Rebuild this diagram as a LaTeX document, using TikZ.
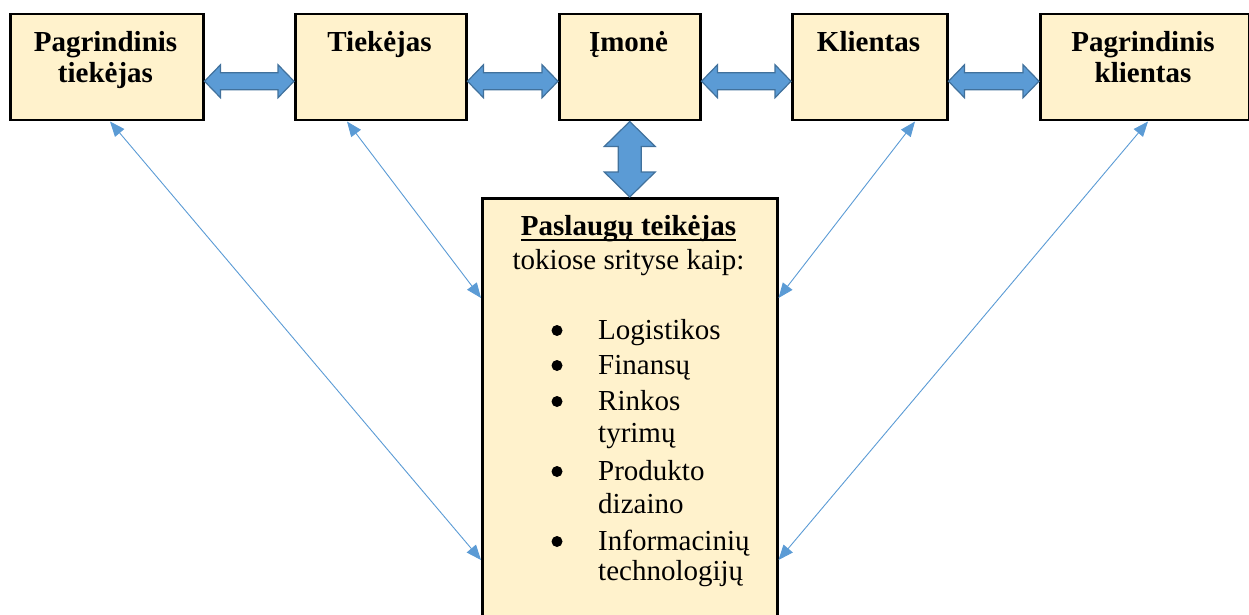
\documentclass[tikz,border=0pt]{standalone}
\usepackage{fontspec}
\setmainfont{Liberation Serif}
\usetikzlibrary{arrows.meta,calc}

\definecolor{boxfill}{HTML}{FFF2CC}
\definecolor{arrowblue}{HTML}{5B9BD5}
\definecolor{arrowedge}{HTML}{41719C}

% horizontal double block arrow between two points on one level
\newcommand\hblock[2]{%
  \path[block] let \p1=(#1), \p2=(#2) in
    (\x1,\y1) -- (\x1+16pt,\y1+16.5pt) -- (\x1+16pt,\y1+8.5pt)
    -- (\x2-16pt,\y1+8.5pt) -- (\x2-16pt,\y1+16.5pt) -- (\x2,\y1)
    -- (\x2-16pt,\y1-16.5pt) -- (\x2-16pt,\y1-8.5pt)
    -- (\x1+16pt,\y1-8.5pt) -- (\x1+16pt,\y1-16.5pt) -- cycle;}
% vertical double block arrow from an upper point to a lower one
\newcommand\vblock[2]{%
  \path[block] let \p1=(#1), \p2=(#2) in
    (\x1,\y1) -- (\x1+25.5pt,\y1-25pt) -- (\x1+11.5pt,\y1-25pt)
    -- (\x1+11.5pt,\y2+25pt) -- (\x1+25.5pt,\y2+25pt) -- (\x1,\y2)
    -- (\x1-25.5pt,\y2+25pt) -- (\x1-11.5pt,\y2+25pt)
    -- (\x1-11.5pt,\y1-25pt) -- (\x1-25.5pt,\y1-25pt) -- cycle;}

\begin{document}
\begin{tikzpicture}[x=1pt,y=-1pt,
  box/.style={draw=black,line width=2.5pt,fill=boxfill,inner sep=0pt,anchor=north west},
  head/.style={anchor=base,inner sep=0pt,font=\fontsize{29}{31}\selectfont\bfseries},
  body/.style={anchor=base,inner sep=0pt,font=\fontsize{29}{33}\selectfont},
  item/.style={anchor=base west,inner sep=0pt,font=\fontsize{29}{33}\selectfont},
  link/.style={arrowblue,line width=0.9pt,{Triangle[length=15pt,width=12pt]}-{Triangle[length=15pt,width=12pt]}},
  block/.style={fill=arrowblue,draw=arrowedge,line width=1.2pt,line join=miter}]

\useasboundingbox (0,0) rectangle (1249,615);
\clip (0,0) rectangle (1249,615);

% boxes of the chain
\node[box,minimum width=193pt,minimum height=106pt] (pt) at (9,13) {};
\node[box,minimum width=171pt,minimum height=106pt] (tk) at (294,13) {};
\node[box,minimum width=141pt,minimum height=106pt] (im) at (558,13) {};
\node[box,minimum width=155pt,minimum height=106pt] (kl) at (791,13) {};
\node[box,minimum width=208.5pt,minimum height=106pt] (pk) at (1039,13) {};
% service provider box (runs past the lower edge)
\node[box,minimum width=295pt,minimum height=450pt] (ps) at (481,197) {};

% box titles
\node[head] (pt1) at (105.5,52) {Pagrindinis};
\node[head] (pt2) at (105.5,83) {tiekėjas};
\node[head] (tk1) at (379.5,52) {Tiekėjas};
\node[head] (im1) at (628.5,52) {Įmonė};
\node[head] (kl1) at (868.5,52) {Klientas};
\node[head] (pk1) at (1143,52) {Pagrindinis};
\node[head] (pk2) at (1143,83) {klientas};

% service provider text
\node[head] (ps1) at (628.5,235) {Paslaugų teikėjas};
\draw[line width=1.8pt] ($(ps1.base west)+(0,5)$) -- ($(ps1.base east)+(0,5)$);
\node[body] (ps2) at (628.5,269) {tokiose srityse kaip:};

\foreach \y in {339,374,480,550}{\fill (557,\y-8.5) circle (5.5pt);}
\fill (557,410-8.5) circle (5.5pt);
\node[item] (i1) at (598,339) {Logistikos};
\node[item] (i2) at (598,374) {Finansų};
\node[item] (i3) at (598,410) {Rinkos};
\node[item] (i3b) at (598,442) {tyrimų};
\node[item] (i4) at (598,480) {Produkto};
\node[item] (i4b) at (598,513) {dizaino};
\node[item] (i5) at (598,550) {Informacinių};
\node[item] (i5b) at (598,580) {technologijų};

% block arrows
\hblock{$(pt.east)+(0,14)$}{$(tk.west)+(0,14)$}
\hblock{$(tk.east)+(0,14)$}{$(im.west)+(0,14)$}
\hblock{$(im.east)+(0,14)$}{$(kl.west)+(0,14)$}
\hblock{$(kl.east)+(0,14)$}{$(pk.west)+(0,14)$}
\vblock{im.south}{ps.north}

% thin links to the service provider
\draw[link] ($(pt.south west)+(101,0)$) -- ($(ps.north west)+(0,363)$);
\draw[link] ($(tk.south west)+(53,0)$) -- ($(ps.north west)+(0,101)$);
\draw[link] ($(kl.south west)+(124,0)$) -- ($(ps.north east)+(0,101)$);
\draw[link] ($(pk.south west)+(109,0)$) -- ($(ps.north east)+(0,363)$);
\end{tikzpicture}
\end{document}
